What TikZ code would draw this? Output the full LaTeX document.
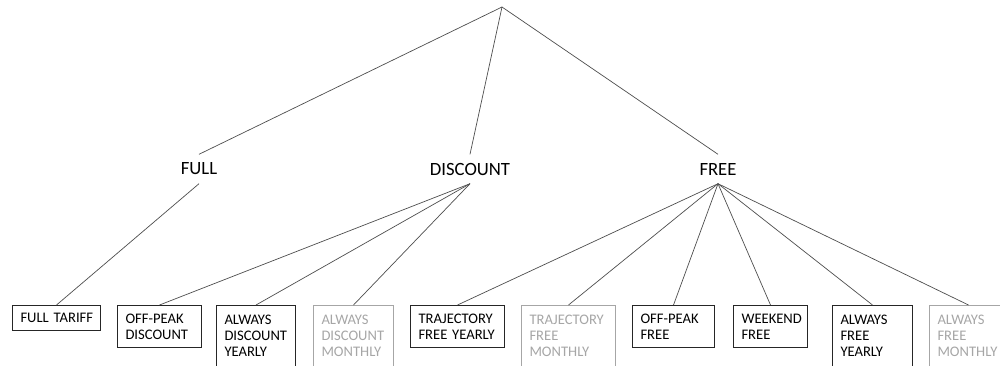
\documentclass[tikz,border=0pt]{standalone}
\usepackage{fontspec}
\setmainfont{Carlito}
\hyphenpenalty=10000
\exhyphenpenalty=10000
\definecolor{greytxt}{HTML}{A6A6A6}
\definecolor{linkcol}{HTML}{4D4D4D}
\begin{document}
\begin{tikzpicture}[x=1pt,y=-1pt,
  tier/.style={font=\fontsize{18.7}{22}\selectfont, inner sep=0pt, minimum height=29pt},
  leaf/.style={draw=black!85, line width=1pt, font=\fontsize{14.6}{16.2}\selectfont,
    align=left, inner xsep=8pt, inner ysep=0pt, anchor=north west},
  greyleaf/.style={leaf, draw=greytxt, text=greytxt},
  link/.style={draw=linkcol, line width=0.7pt}]
\useasboundingbox (0,0) rectangle (1000,365);

\coordinate (root) at (502,7);
\node[tier] (full) at (199,169) {FULL};
\node[tier] (disc) at (470,169) {DISCOUNT};
\node[tier] (free) at (718,169) {FREE};

\node[leaf, text width=72pt, minimum height=25pt] (ft) at (12,305) {FULL~TARIFF};
\node[leaf, text width=68pt, minimum height=42pt] (opd) at (117,305) {OFF-PEAK\\DISCOUNT};
\node[leaf, text width=63pt, minimum height=61pt] (ady) at (216,305) {ALWAYS\\DISCOUNT\\YEARLY};
\node[greyleaf, text width=64pt, minimum height=61pt] (adm) at (313,305) {ALWAYS\\DISCOUNT\\MONTHLY};
\node[leaf, text width=78pt, minimum height=42pt] (tfy) at (410,305) {TRAJECTORY\\FREE~YEARLY};
\node[greyleaf, text width=78pt, minimum height=61pt] (tfm) at (521,305) {TRAJECTORY\\FREE\\MONTHLY};
\node[leaf, text width=66pt, minimum height=42pt] (opf) at (632,305) {OFF-PEAK\\FREE};
\node[leaf, text width=58pt, minimum height=42pt] (wf) at (733,305) {WEEKEND\\FREE};
\node[leaf, text width=64pt, minimum height=61pt] (afy) at (832,305) {ALWAYS\\FREE\\YEARLY};
\node[greyleaf, text width=62pt, minimum height=61pt] (afm) at (929,305) {ALWAYS\\FREE\\MONTHLY};

\draw[link] (root) -- (full.north);
\draw[link] (root) -- (disc.north);
\draw[link] (root) -- (free.north);

\draw[link] (full.south) -- (ft.north);
\draw[link] (disc.south) -- (opd.north);
\draw[link] (disc.south) -- (ady.north);
\draw[link] (disc.south) -- (adm.north);
\draw[link] (free.south) -- (tfy.north);
\draw[link] (free.south) -- (tfm.north);
\draw[link] (free.south) -- (opf.north);
\draw[link] (free.south) -- (wf.north);
\draw[link] (free.south) -- (afy.north);
\draw[link] (free.south) -- (afm.north);
\end{tikzpicture}
\end{document}
